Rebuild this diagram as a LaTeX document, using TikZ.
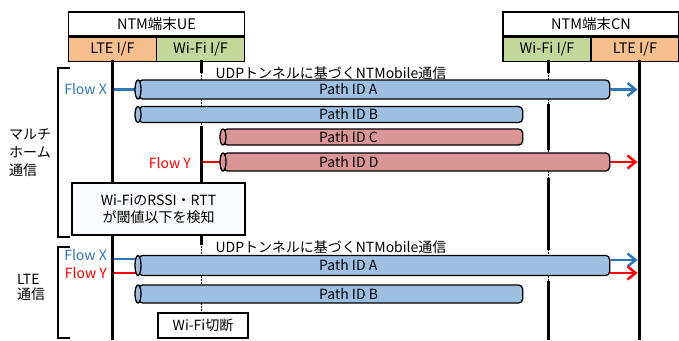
\documentclass[tikz,border=0pt]{standalone}
\usepackage{fontspec}
\setmainfont{Noto Sans CJK JP}
\usetikzlibrary{arrows.meta}
\definecolor{lteor}{HTML}{F8BF8E}
\definecolor{wifigr}{HTML}{C4D79B}
\definecolor{pblue}{HTML}{9DC0E2}
\definecolor{pred}{HTML}{D99694}
\definecolor{flowblue}{HTML}{2E75B6}
\definecolor{boxbg}{HTML}{F9FBFE}
\begin{document}
\begin{tikzpicture}[x=1pt,y=-1pt,
    every node/.style={font=\fontsize{14}{16}\selectfont,inner sep=0pt},
    hdr/.style={draw,line width=1.3pt,fill=white,minimum width=176pt,minimum height=24pt,font=\fontsize{14.5}{16}\selectfont},
    ifbox/.style={draw,line width=1.3pt,minimum width=88pt,minimum height=24pt,font=\fontsize{14.5}{16}\selectfont},
    pipe/.style={draw,line width=1.3pt,rounded corners=4pt,anchor=west},
    pend/.style={draw,line width=1.3pt},
    life/.style={line width=3pt},
    tun/.style={line width=1pt,dash pattern=on 1.5pt off 1.5pt},
    flowx/.style={line width=2.5pt,color=flowblue},
    flowy/.style={line width=2.5pt,color=red},
    arr/.style={-{Straight Barb[length=8pt,width=13pt]},shorten >=1.5pt},
    brk/.style={line width=1.3pt}]
    \useasboundingbox (0,0) rectangle (679,340);
    % UE ====================================================
    \node[hdr]                                    (ue)     at (156.5,24) {NTM端末UE};
    \node[ifbox,fill=lteor,anchor=north west]     (ueLTE)  at (ue.south west) {LTE I/F};
    \node[ifbox,fill=wifigr,anchor=north east]    (ueWiFi) at (ue.south east) {Wi-Fi I/F};
    % CN ====================================================
    \node[hdr]                                    (cn)     at (591,24) {NTM端末CN};
    \node[ifbox,fill=wifigr,anchor=north west]    (cnWiFi) at (cn.south west) {Wi-Fi I/F};
    \node[ifbox,fill=lteor,anchor=north east]     (cnLTE)  at (cn.south east) {LTE I/F};
    \coordinate (ueL) at (112,60); \coordinate (ueW) at (201,60);
    \coordinate (cnW) at (548,60); \coordinate (cnL) at (639,60);
    % lifelines =============================================
    \draw[life] (ueL) -- (112,340);
    \draw[life] (cnL) -- (639,340);
    \draw[tun]  (ueW) -- (201,313);
    \draw[life] (ueW) -- (201,73); \draw[life] (201,126) -- (201,183); \draw[life] (201,235) -- (201,245);
    \draw[tun]  (cnW) -- (548,340);
    \draw[life] (cnW) -- (548,73); \draw[life] (548,104) -- (548,150); \draw[life] (548,178) -- (548,250);
    \draw[life] (548,281) -- (548,340);
    % multihome =============================================
    \node (ttl1) at (331,73) {UDPトンネルに基づくNTMobile通信};
    \node[pipe,fill=pblue,minimum width=471pt,minimum height=19pt] (pA1) at (138,89.5) {};
    \node[pipe,fill=pblue,minimum width=384pt,minimum height=16pt] (pB1) at (138,114.5) {};
    \node[pipe,fill=pred,minimum width=299pt,minimum height=16pt]  (pC1) at (223,137) {};
    \node[pipe,fill=pred,minimum width=386pt,minimum height=18pt]  (pD1) at (223,162) {};
    \draw[flowx,shorten <=1.5pt] (ueL |- pA1.west) -- (pA1.west);
    \draw[flowy,shorten <=1.5pt] (ueW |- pD1.west) -- (pD1.west);
    \draw[pend,fill=pblue] (pA1.west) ellipse [x radius=3pt,y radius=9.5pt];
    \draw[pend,fill=pblue] (pB1.west) ellipse [x radius=3pt,y radius=8pt];
    \draw[pend,fill=pred]  (pC1.west) ellipse [x radius=3pt,y radius=8pt];
    \draw[pend,fill=pred]  (pD1.west) ellipse [x radius=3pt,y radius=9pt];
    \node[anchor=west] (tA1) at (319,89.5) {Path ID A};
    \node[anchor=west] (tB1) at (319,114.5) {Path ID B};
    \node[anchor=west] (tC1) at (319,137) {Path ID C};
    \node[anchor=west] (tD1) at (319,162) {Path ID D};
    \draw[flowx,arr] (pA1.east) -- (cnL |- pA1.east);
    \draw[flowy,arr] (pD1.east) -- (cnL |- pD1.east);
    \node[text=flowblue,anchor=east] (fx1) at (107,89) {Flow X};
    \node[text=red,anchor=east]      (fy1) at (191,163) {Flow Y};
    \node[draw,line width=1.3pt,fill=boxbg,minimum width=173pt,minimum height=52pt,align=center,
          font=\fontsize{14}{17}\selectfont] (rssi) at (158.5,209) {Wi-FiのRSSI・RTT\\が閾値以下を検知};
    \draw[brk] (70,68) -- (58,68) -- (58,237) -- (70,237);
    \node[anchor=west,align=left,font=\fontsize{14}{18}\selectfont] (mh) at (9,153) {マルチ\\ホーム\\通信};
    % LTE only ==============================================
    \node (ttl2) at (331,247) {UDPトンネルに基づくNTMobile通信};
    \node[pipe,fill=pblue,minimum width=471pt,minimum height=20pt] (pA2) at (138,265.5) {};
    \node[pipe,fill=pblue,minimum width=384pt,minimum height=18pt] (pB2) at (138,294) {};
    \draw[flowx,shorten <=1.5pt] (ueL |- 0,259) -- ([yshift=6.5pt]pA2.west);
    \draw[flowy,shorten <=1.5pt] (ueL |- 0,273) -- ([yshift=-7.5pt]pA2.west);
    \draw[pend,fill=pblue] (pA2.west) ellipse [x radius=3pt,y radius=10pt];
    \draw[pend,fill=pblue] (pB2.west) ellipse [x radius=3pt,y radius=9pt];
    \node[anchor=west] (tA2) at (319,265.5) {Path ID A};
    \node[anchor=west] (tB2) at (319,294) {Path ID B};
    \draw[flowx,arr] ([yshift=5.5pt]pA2.east) -- (cnL |- 0,260);
    \draw[flowy,arr] ([yshift=-7.5pt]pA2.east) -- (cnL |- 0,273);
    \node[text=flowblue,anchor=east] (fx2) at (107,255) {Flow X};
    \node[text=red,anchor=east]      (fy2) at (107,273) {Flow Y};
    \node[draw,line width=1.3pt,fill=white,minimum width=90pt,minimum height=25pt] (cut) at (203,325.5) {Wi-Fi切断};
    \draw[brk] (70,247) -- (58,247) -- (58,338) -- (70,338);
    \node[anchor=west,align=left,font=\fontsize{14}{15}\selectfont] (lte) at (17,287) {LTE\\通信};
\end{tikzpicture}
\end{document}
